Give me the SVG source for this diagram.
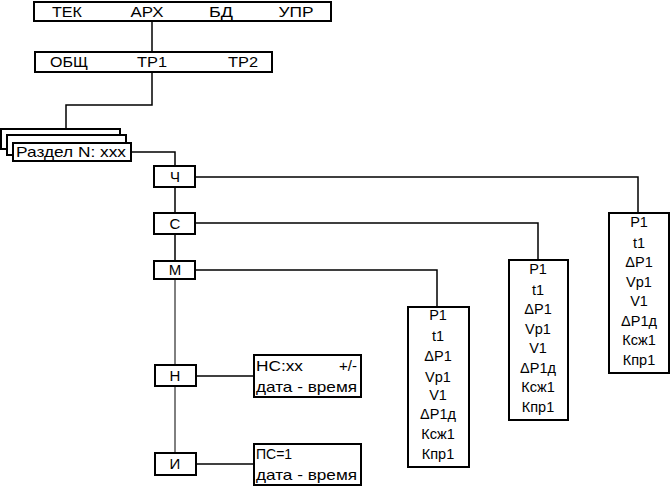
<svg xmlns="http://www.w3.org/2000/svg" width="670" height="486" viewBox="0 0 670 486">
<style>
.bx{fill:#fff;stroke:#000;stroke-width:2}
.ln{fill:none;stroke:#000;stroke-width:1.5}
.th{fill:none;stroke:#000;stroke-width:1}
text{font-family:"Liberation Sans",Arial,sans-serif;font-size:15px;fill:#000}
.c{text-anchor:middle}
.p{font-size:14.5px;text-anchor:middle}
</style>
<g id="connectors">
<path class="ln" d="M152 21V52"/>
<path class="ln" d="M152 72V105H66V130"/>
<path class="ln" d="M131 152H175V166"/>
<path class="ln" d="M175 187V213M175 234V261"/>
<path class="th" d="M175 279V365M175 386V453"/>
<path class="ln" d="M195 177H638V213"/>
<path class="ln" d="M195 223H538V260"/>
<path class="ln" d="M195 270H437V307"/>
<path class="ln" d="M196 376H254"/>
<path class="ln" d="M196 464H254"/>
</g>
<g id="menu-top">
<rect class="bx" x="34" y="2" width="297" height="19"/>
<text class="c" x="67" y="17" textLength="30" lengthAdjust="spacingAndGlyphs">ТЕК</text>
<text class="c" x="147" y="17" textLength="33" lengthAdjust="spacingAndGlyphs">АРХ</text>
<text class="c" x="221" y="17" textLength="24" lengthAdjust="spacingAndGlyphs">БД</text>
<text class="c" x="296" y="17" textLength="35" lengthAdjust="spacingAndGlyphs">УПР</text>
</g>
<g id="menu-tr">
<rect class="bx" x="35" y="52" width="237" height="20"/>
<text class="c" x="69" y="67" textLength="38" lengthAdjust="spacingAndGlyphs">ОБЩ</text>
<text class="c" x="152" y="67" textLength="30" lengthAdjust="spacingAndGlyphs">ТР1</text>
<text class="c" x="243" y="67" textLength="30" lengthAdjust="spacingAndGlyphs">ТР2</text>
</g>
<g id="razdel">
<rect class="bx" x="1" y="129" width="119" height="20"/>
<rect class="bx" x="7" y="135" width="119" height="20"/>
<rect class="bx" x="13" y="143" width="118" height="18"/>
<text x="16" y="157" textLength="110" lengthAdjust="spacingAndGlyphs">Раздел N: xxx</text>
</g>
<g id="node-ch">
<rect class="bx" x="154" y="166" width="41" height="21"/>
<text class="c" x="175" y="182">Ч</text>
</g>
<g id="node-s">
<rect class="bx" x="154" y="213" width="41" height="21"/>
<text class="c" x="175" y="229">С</text>
</g>
<g id="node-m">
<rect class="bx" x="154" y="261" width="41" height="18"/>
<text class="c" x="175" y="275">М</text>
</g>
<g id="node-n">
<rect class="bx" x="155" y="365" width="41" height="21"/>
<text class="c" x="175" y="381">Н</text>
</g>
<g id="node-i">
<rect class="bx" x="155" y="453" width="41" height="22"/>
<text class="c" x="175" y="469">И</text>
</g>
<g id="ns-box">
<rect class="bx" x="254" y="355" width="107" height="42"/>
<text x="256" y="371" textLength="47" lengthAdjust="spacingAndGlyphs">НС:xx</text>
<text x="357" y="371" text-anchor="end">+/-</text>
<text x="256" y="392" textLength="101" lengthAdjust="spacingAndGlyphs">дата - время</text>
</g>
<g id="ps-box">
<rect class="bx" x="254" y="444" width="107" height="41"/>
<text x="256" y="459" style="font-size:14px">ПС=1</text>
<text x="256" y="480" textLength="101" lengthAdjust="spacingAndGlyphs">дата - время</text>
</g>
<g id="params-m">
<rect class="bx" x="408" y="307" width="61" height="160"/>
<text class="p" x="438" y="320">Р1</text>
<text class="p" x="438" y="341">t1</text>
<text class="p" x="438" y="361">ΔР1</text>
<text class="p" x="438" y="382">Vp1</text>
<text class="p" x="438" y="400">V1</text>
<text class="p" x="438" y="419">ΔР1д</text>
<text class="p" x="438" y="439">Ксж1</text>
<text class="p" x="438" y="459">Кпр1</text>
</g>
<g id="params-s">
<rect class="bx" x="509" y="260" width="59" height="160"/>
<text class="p" x="538" y="274">Р1</text>
<text class="p" x="538" y="295">t1</text>
<text class="p" x="538" y="314">ΔР1</text>
<text class="p" x="538" y="334">Vp1</text>
<text class="p" x="538" y="353">V1</text>
<text class="p" x="538" y="373">ΔР1д</text>
<text class="p" x="538" y="392">Ксж1</text>
<text class="p" x="538" y="412">Кпр1</text>
</g>
<g id="params-ch">
<rect class="bx" x="609" y="213" width="60" height="160"/>
<text class="p" x="639" y="227">Р1</text>
<text class="p" x="639" y="248">t1</text>
<text class="p" x="639" y="267">ΔР1</text>
<text class="p" x="639" y="287">Vp1</text>
<text class="p" x="639" y="306">V1</text>
<text class="p" x="639" y="326">ΔР1д</text>
<text class="p" x="639" y="345">Ксж1</text>
<text class="p" x="639" y="365">Кпр1</text>
</g>
</svg>
